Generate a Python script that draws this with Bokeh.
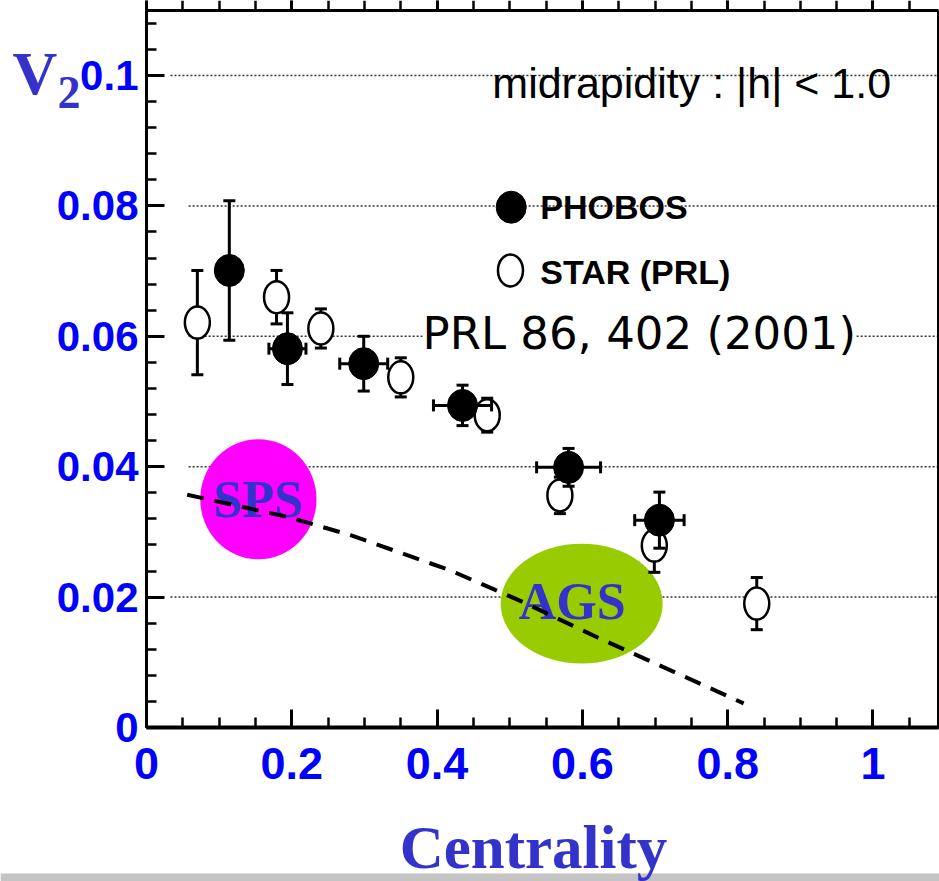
import numpy as np
from bokeh.plotting import figure
from bokeh.models import LinearAxis, FixedTicker, Label, Range1d, BoxAnnotation
from bokeh.core.properties import value
from bokeh.embed import file_html
from bokeh.resources import INLINE

# ---------------- data ----------------
phobos_x = [0.114, 0.194, 0.299, 0.435, 0.581, 0.706]
phobos_v2 = [0.0701, 0.0581, 0.0558, 0.0494, 0.0399, 0.0318]
phobos_v2_err = [0.0107, 0.0055, 0.0042, 0.0031, 0.0029, 0.0043]
phobos_x_err = [0.015, 0.0255, 0.033, 0.040, 0.044, 0.034]

star_x = [0.070, 0.179, 0.240, 0.350, 0.469, 0.569, 0.699, 0.840]
star_v2 = [0.0621, 0.0660, 0.0612, 0.0537, 0.0479, 0.0356, 0.0279, 0.0190]
star_v2_err = [0.0080, 0.0041, 0.0030, 0.0030, 0.0026, 0.0028, 0.0041, 0.0040]

curve_x = [0.056, 0.194, 0.281, 0.418, 0.519, 0.621, 0.822]
curve_v2 = [0.0357, 0.0323, 0.0295, 0.0241, 0.0192, 0.0138, 0.0037]

region_names = ["SPS", "AGS"]
region_x = [0.154, 0.599]
region_v2 = [0.035, 0.019]
region_w = [0.160, 0.223]
region_h = [0.0184, 0.0184]
region_colors = ["#ff00ff", "#99cc00"]
region_label_x = [0.154, 0.586]
region_label_v2 = [0.0350, 0.0193]

x_ticks = [0, 0.2, 0.4, 0.6, 0.8, 1.0]
x_tick_labels = ["0", "0.2", "0.4", "0.6", "0.8", "1"]
y_ticks = [0, 0.02, 0.04, 0.06, 0.08, 0.1]
y_tick_labels = ["0", "0.02", "0.04", "0.06", "0.08", "0.1"]
x_minor = [round(0.05 * i, 3) for i in range(0, 22)]
y_minor = [round(0.004 * i, 4) for i in range(0, 28)]

grid_y = [0.02, 0.04, 0.06, 0.08, 0.1]
grid_x0 = [0.033, 0.058, 0.058, 0.058, 0.033]

# plotted box (axes drawn at fixed locations inside a full-canvas frame)
X_END = 1.0902
Y_END = 0.10997
VIEW_X = (-0.20096, 1.09154)
VIEW_Y = (-0.02362, 0.11150)

BLUE = "#0000ff"
TITLE_BLUE = "#3333cc"

p = figure(width=939, height=881, x_range=Range1d(*VIEW_X), y_range=Range1d(*VIEW_Y),
           output_backend="svg", toolbar_location=None,
           x_axis_location=None, y_axis_location=None,
           min_border=0, min_border_left=0, min_border_right=0,
           min_border_top=0, min_border_bottom=0,
           background_fill_color="white", border_fill_color="white")
p.outline_line_color = None
p.xgrid.visible = False
p.ygrid.visible = False

xt = FixedTicker(ticks=x_ticks, minor_ticks=x_minor)
yt = FixedTicker(ticks=y_ticks, minor_ticks=y_minor)


def make_axis(ticker, width, loc, bounds, labels=None, size="0px", standoff=0):
    ax = LinearAxis(fixed_location=loc, bounds=bounds)
    ax.ticker = ticker
    ax.axis_line_color = "black"
    ax.axis_line_width = width
    ax.major_tick_line_color = "black"
    ax.minor_tick_line_color = "black"
    ax.major_tick_line_width = 3
    ax.minor_tick_line_width = 2.5
    ax.major_tick_in = 18
    ax.major_tick_out = 0
    ax.minor_tick_in = 10
    ax.minor_tick_out = 0
    ax.major_label_standoff = standoff
    ax.major_label_text_font_size = size
    ax.major_label_text_color = BLUE
    ax.major_label_text_font = "Liberation Sans"
    ax.major_label_text_font_style = "bold"
    if labels is not None:
        ax.major_label_overrides = labels
    else:
        ax.major_label_text_alpha = 0
    return ax


bottom_axis = make_axis(xt, 4, 0, (0, X_END), {t: l for t, l in zip(x_ticks, x_tick_labels)}, "45px", 21)
left_axis = make_axis(yt, 3, 0, (0, Y_END), {t: l for t, l in zip(y_ticks, y_tick_labels)}, "42px", 8)
top_axis = make_axis(xt, 3, Y_END, (0, X_END))
right_axis = make_axis(yt, 3, X_END, (0, Y_END))

# dotted grid lines
p.segment(x0=grid_x0, y0=grid_y, x1=[X_END] * len(grid_y), y1=grid_y,
          line_color="#333333", line_width=1.5, line_dash="2 2")

# regions
p.ellipse(x=region_x, y=region_v2, width=region_w, height=region_h,
          fill_color=region_colors, line_color=None)
p.text(x=region_label_x, y=region_label_v2, text=region_names,
       text_font=value("Liberation Serif"), text_font_style="bold", text_font_size="52px",
       text_color=TITLE_BLUE, text_align="center", text_baseline="middle")

# dashed curve
p.line(curve_x, curve_v2, line_color="black", line_width=4, line_dash="17 11")

# STAR error bars + markers
sx = np.array(star_x); sy = np.array(star_v2); se = np.array(star_v2_err)
p.segment(x0=sx, y0=sy - se, x1=sx, y1=sy + se, line_color="black", line_width=3)
p.dash(x=np.concatenate([sx, sx]), y=np.concatenate([sy - se, sy + se]),
       size=12, line_color="black", line_width=3)
p.ellipse(x=star_x, y=star_v2, width=25, height=32, width_units="screen", height_units="screen",
          fill_color="white", line_color="black", line_width=2.5)

# PHOBOS error bars + markers
px_ = np.array(phobos_x); py = np.array(phobos_v2); pe = np.array(phobos_v2_err); pxe = np.array(phobos_x_err)
p.segment(x0=px_, y0=py - pe, x1=px_, y1=py + pe, line_color="black", line_width=3)
p.segment(x0=px_ - pxe, y0=py, x1=px_ + pxe, y1=py, line_color="black", line_width=3)
p.dash(x=np.concatenate([px_, px_]), y=np.concatenate([py - pe, py + pe]),
       size=12, line_color="black", line_width=3)
p.dash(x=np.concatenate([px_ - pxe, px_ + pxe]), y=np.concatenate([py, py]),
       size=12, angle=np.pi / 2, line_color="black", line_width=3)
p.ellipse(x=phobos_x, y=phobos_v2, width=30, height=32, width_units="screen", height_units="screen",
          fill_color="black", line_color="black")

# legend
p.ellipse(x=[0.502], y=[0.0798], width=30, height=32, width_units="screen", height_units="screen",
          fill_color="black", line_color="black")
p.ellipse(x=[0.501], y=[0.0701], width=25, height=32, width_units="screen", height_units="screen",
          fill_color="white", line_color="black", line_width=2.5)
p.add_layout(Label(x=0.542, y=0.0798, text="PHOBOS", text_font="Liberation Sans",
                   text_font_style="bold", text_font_size="34px", text_color="black",
                   text_baseline="middle"))
p.add_layout(Label(x=0.542, y=0.0698, text="STAR (PRL)", text_font="Liberation Sans",
                   text_font_style="bold", text_font_size="34px", text_color="black",
                   text_baseline="middle"))

p.add_layout(Label(x=0.476, y=0.0988, text="midrapidity : |h| < 1.0", text_font="Liberation Sans",
                   text_font_size="43px", text_color="black", text_baseline="middle"))
p.add_layout(Label(x=0.380, y=0.0604, text="PRL 86, 402 (2001)", text_font="DejaVu Sans",
                   text_font_size="45px", text_color="black", text_baseline="middle",
                   background_fill_color="white"))

# axes (drawn after the data, on top)
for ax in (bottom_axis, top_axis):
    p.add_layout(ax, "below")
for ax in (left_axis, right_axis):
    p.add_layout(ax, "left")

# grey strip at the bottom of the page (screen units from the bottom-left corner)
p.add_layout(BoxAnnotation(left=0, right=939, bottom=0, top=8,
                           left_units="screen", right_units="screen",
                           bottom_units="screen", top_units="screen",
                           fill_color="#c4c4c4", fill_alpha=1.0, line_color=None))

# axis titles (screen units from the bottom-left corner)
p.add_layout(Label(x=12, y=809, x_units="screen", y_units="screen", text="V",
                   text_font="Liberation Serif", text_font_style="bold", text_font_size="62px",
                   text_color=TITLE_BLUE, text_baseline="middle"))
p.add_layout(Label(x=57, y=789, x_units="screen", y_units="screen", text="2",
                   text_font="Liberation Serif", text_font_style="bold", text_font_size="46px",
                   text_color=TITLE_BLUE, text_baseline="middle"))
p.add_layout(Label(x=533, y=34, x_units="screen", y_units="screen", text="Centrality",
                   text_font="Liberation Serif", text_font_style="bold", text_font_size="61px",
                   text_color=TITLE_BLUE, text_align="center", text_baseline="middle"))

open("out.html", "w").write(file_html(p, INLINE))
